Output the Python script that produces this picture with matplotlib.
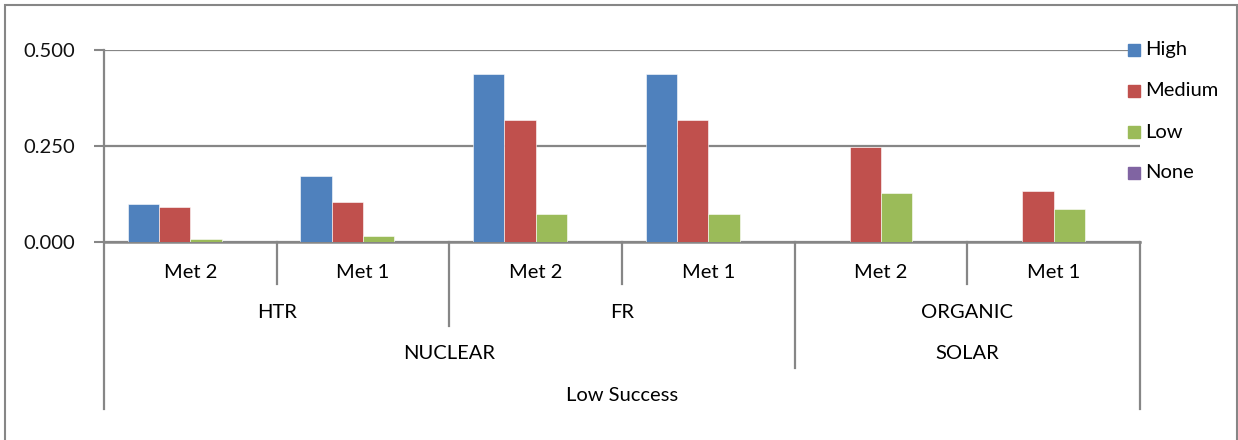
import numpy as np
import matplotlib
matplotlib.use("Agg")
from matplotlib.pylab import plt
from matplotlib.patches import Rectangle

# data
met_labels = ["Met 2", "Met 1", "Met 2", "Met 1", "Met 2", "Met 1"]
tech_labels = ["HTR", "FR", "ORGANIC"]
source_labels = ["NUCLEAR", "SOLAR"]
top_label = "Low Success"
series = ["High", "Medium", "Low", "None"]
high = [0.100, 0.172, 0.438, 0.438, 0.0, 0.0]
medium = [0.090, 0.105, 0.318, 0.318, 0.247, 0.132]
low = [0.007, 0.016, 0.072, 0.073, 0.127, 0.086]
none = [0.0, 0.0, 0.0, 0.0, 0.0, 0.0]
colors = ["#4F81BD", "#C0504D", "#9BBB59", "#8064A2"]

W, H = 1238, 440
plt.rcParams["font.family"] = ["Lato", "DejaVu Sans"]
fig = plt.figure(figsize=(W / 100, H / 100), dpi=100)
x0, x1, y0, y1 = 104, 1140, 242, 50
ax = fig.add_axes([x0 / W, 1 - y0 / H, (x1 - x0) / W, (y0 - y1) / H])

grid_c = "#868686"
n = len(met_labels)
gap = 1.5
bw = 1 / (len(series) + gap)
for k, vals in enumerate([high, medium, low, none]):
    pos = np.arange(n) + (gap / 2 + k + 0.5) * bw
    ax.bar(pos, vals, width=bw, color=colors[k], edgecolor="white",
           linewidth=0.4, label=series[k], zorder=3)

fs = 14.5
ax.set_xlim(0, n)
ax.set_ylim(0, 0.5)
ax.set_yticks([0, 0.25, 0.5])
ax.set_yticklabels(["0.000", "0.250", "0.500"], fontsize=fs, color="#111111")
ax.tick_params(axis="y", length=7, width=1.5, color=grid_c, pad=14)
ax.set_xticks([])
ax.yaxis.grid(True, color=grid_c, linewidth=1.6, zorder=0)
for s in ["top", "right"]:
    ax.spines[s].set_visible(False)
ax.spines["bottom"].set_color(grid_c)
ax.spines["bottom"].set_linewidth(1.8)
ax.spines["left"].set_visible(False)

tr = ax.get_xaxis_transform()


def ypx(py):
    return (y0 - py) / (y0 - y1)


def vline(x, bottom_px, top_px=242):
    ax.plot([x, x], [ypx(top_px), ypx(bottom_px)], transform=tr,
            color=grid_c, linewidth=1.6, clip_on=False)


# y axis line runs down through the category levels
vline(0, 409, 50)
vline(n, 409)
for x in [1, 3, 5]:
    vline(x, 284)
vline(2, 326)
vline(4, 368)

for i, lab in enumerate(met_labels):
    ax.text(i + 0.5, ypx(272), lab, transform=tr, ha="center", va="center", fontsize=fs)
for i, lab in enumerate(tech_labels):
    ax.text(2 * i + 1, ypx(312), lab, transform=tr, ha="center", va="center", fontsize=fs)
ax.text(2, ypx(353), source_labels[0], transform=tr, ha="center", va="center", fontsize=fs)
ax.text(5, ypx(353), source_labels[1], transform=tr, ha="center", va="center", fontsize=fs)
ax.text(3, ypx(395), top_label, transform=tr, ha="center", va="center", fontsize=fs)

# legend, placed like excel's right-hand legend
for k, name in enumerate(series):
    py = 50 + k * 41
    fig.patches.append(Rectangle(((x1 - 12) / W, 1 - (py + 6) / H), 12 / W, 12 / H,
                                 transform=fig.transFigure, color=colors[k], zorder=5))
    fig.text((x1 + 5) / W, 1 - py / H, name, ha="left", va="center", fontsize=fs)

# outer chart border (bottom edge falls outside the picture)
fig.patches.append(Rectangle((5 / W, -10 / H), (W - 6) / W, (H + 5) / H, transform=fig.transFigure,
                             fill=False, edgecolor=grid_c, linewidth=1.5))

fig.savefig("out.png", dpi=100)
